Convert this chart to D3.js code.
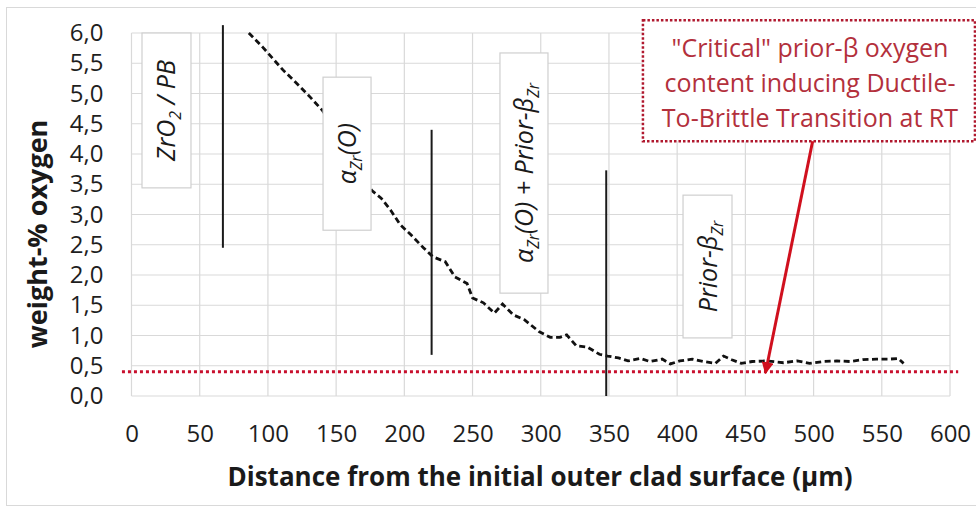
<!DOCTYPE html>
<html>
<head>
<meta charset="utf-8">
<script src="https://cdn.jsdelivr.net/npm/d3@7"></script>
<style>
  body { margin: 0; background: #fff; }
  text { font-family: "Open Sans", "Lato", sans-serif; }
</style>
</head>
<body>
<div id="chart"></div>
<script>
// DATA
var distance = [86, 96, 111, 121, 131, 140, 176, 183, 190, 197, 205, 214, 221, 230, 237, 246,
  250, 258, 266, 272, 280, 288, 299, 307, 314, 319, 326, 334, 343, 349, 357, 364, 373, 380,
  389, 395, 402, 411, 419, 428, 434, 440, 447, 455, 466, 478, 488, 497, 507, 517, 527, 536,
  546, 556, 562, 566];
var oxygen = [6.0, 5.77, 5.39, 5.17, 4.94, 4.72, 3.40, 3.27, 3.07, 2.83, 2.66, 2.45, 2.30, 2.22,
  1.97, 1.86, 1.62, 1.54, 1.37, 1.52, 1.34, 1.26, 1.06, 0.97, 0.97, 1.01, 0.83, 0.81, 0.69,
  0.66, 0.63, 0.58, 0.62, 0.57, 0.61, 0.53, 0.58, 0.61, 0.57, 0.54, 0.66, 0.60, 0.54, 0.57,
  0.58, 0.55, 0.58, 0.54, 0.57, 0.58, 0.57, 0.60, 0.61, 0.61, 0.62, 0.54];

var xTicks = [0, 50, 100, 150, 200, 250, 300, 350, 400, 450, 500, 550, 600];
var yTicks = [0, 0.5, 1, 1.5, 2, 2.5, 3, 3.5, 4, 4.5, 5, 5.5, 6];

// phase boundaries: [x, yTop, yBottom]
var boundaries = [[67, 6.13, 2.45], [220, 4.4, 0.68], [348, 3.73, 0]];

// phase label boxes: x0, x1, yTop, yBottom
var phaseBoxes = [
  { x0: 7.7, x1: 43.6, y0: 6.0, y1: 3.44, parts: [["ZrO", false], ["2", true], [" / PB", false]] },
  { x0: 140.4, x1: 175.6, y0: 5.27, y1: 2.74, parts: [["α", false], ["Zr", true], ["(O)", false]] },
  { x0: 270.1, x1: 305.3, y0: 5.67, y1: 1.70, parts: [["α", false], ["Zr", true], ["(O) + Prior-β", false], ["Zr", true]] },
  { x0: 404.3, x1: 440.2, y0: 3.32, y1: 0.96, parts: [["Prior-β", false], ["Zr", true]] }
];

var criticalLevel = 0.4;
var criticalExtent = [-7, 606];
var noteLines = ['"Critical" prior-β oxygen', "content inducing Ductile-", "To-Brittle Transition at RT"];
var noteBox = { x0: 374.9, x1: 618.3, y0: 6.21, y1: 4.21 };
var arrowFrom = [499.3, 4.21];
var arrowTo = [464.9, 0.4];

// -------------------------------------------------
var W = 976, H = 512;
var margin = { top: 33, right: 26, bottom: 116, left: 131.5 };
var width = W - margin.left - margin.right;
var height = H - margin.top - margin.bottom;

var x = d3.scaleLinear().domain([0, 600]).range([0, width]);
var y = d3.scaleLinear().domain([0, 6]).range([height, 0]);
var fmt = function (d) { return d3.format(".1f")(d).replace(".", ","); };

var svg = d3.select("#chart").append("svg").attr("width", W).attr("height", H);

// CHART BORDER
svg.append("rect")
  .attr("x", 6.5).attr("y", 7.5)
  .attr("width", W).attr("height", 498)
  .attr("fill", "#fff")
  .attr("stroke", "#d9d9d9");

var g = svg.append("g").attr("transform", `translate(${margin.left}, ${margin.top})`);

// GRID
g.append("g")
  .selectAll("line")
  .data(xTicks)
  .enter()
  .append("line")
  .attr("x1", (d) => x(d)).attr("x2", (d) => x(d))
  .attr("y1", 0).attr("y2", height)
  .attr("stroke", "#d9d9d9").attr("stroke-width", 1.2);

g.append("g")
  .selectAll("line")
  .data(yTicks)
  .enter()
  .append("line")
  .attr("x1", 0).attr("x2", width)
  .attr("y1", (d) => y(d)).attr("y2", (d) => y(d))
  .attr("stroke", "#d9d9d9").attr("stroke-width", 1.2);

// AXES (labels only)
var xAxis = g.append("g")
  .attr("transform", `translate(0, ${height})`)
  .call(d3.axisBottom(x).tickValues(xTicks).tickSize(0).tickPadding(29).tickFormat(d3.format("d")));
xAxis.select(".domain").remove();
xAxis.selectAll("text").attr("font-size", 24).attr("fill", "#1e1e1e").style("font-family", '"Open Sans", sans-serif');

var yAxis = g.append("g")
  .call(d3.axisLeft(y).tickValues(yTicks).tickSize(0).tickPadding(28).tickFormat(fmt));
yAxis.select(".domain").remove();
yAxis.selectAll("text").attr("font-size", 24).attr("fill", "#1e1e1e").style("font-family", '"Open Sans", sans-serif');

// AXIS TITLES
svg.append("text")
  .attr("x", 540).attr("y", 486)
  .attr("text-anchor", "middle")
  .attr("font-size", 26).attr("font-weight", "bold").attr("fill", "#1a1a1a")
  .text("Distance from the initial outer clad surface (µm)");

svg.append("text")
  .attr("transform", "translate(47, 234) rotate(-90)")
  .attr("text-anchor", "middle")
  .attr("font-size", 27).attr("font-weight", "bold").attr("fill", "#1a1a1a")
  .text("weight-% oxygen");

// CRITICAL LEVEL
g.append("line")
  .attr("x1", x(criticalExtent[0])).attr("x2", x(criticalExtent[1]))
  .attr("y1", y(criticalLevel)).attr("y2", y(criticalLevel))
  .attr("stroke", "#c8102e").attr("stroke-width", 3)
  .attr("stroke-dasharray", "3,3");

// DATA LINE
var pts = distance.map((d, i) => [d, oxygen[i]]);
var line = d3.line().x((d) => x(d[0])).y((d) => y(d[1]));
g.append("path")
  .attr("d", line(pts))
  .attr("fill", "none")
  .attr("stroke", "#111")
  .attr("stroke-width", 2.8)
  .attr("stroke-dasharray", "6,3.5");

// PHASE BOUNDARIES
g.append("g")
  .selectAll("line")
  .data(boundaries)
  .enter()
  .append("line")
  .attr("x1", (d) => x(d[0])).attr("x2", (d) => x(d[0]))
  .attr("y1", (d) => y(d[1])).attr("y2", (d) => y(d[2]))
  .attr("stroke", "#1a1a1a").attr("stroke-width", 2);

// PHASE LABELS
var boxes = g.selectAll(".phase")
  .data(phaseBoxes)
  .enter()
  .append("g")
  .attr("class", "phase");

boxes.append("rect")
  .attr("x", (d) => x(d.x0)).attr("y", (d) => y(d.y0))
  .attr("width", (d) => x(d.x1) - x(d.x0))
  .attr("height", (d) => y(d.y1) - y(d.y0))
  .attr("fill", "#fff")
  .attr("stroke", "#cfcfcf").attr("stroke-width", 1.2);

boxes.append("text")
  .attr("transform", (d) => `translate(${(x(d.x0) + x(d.x1)) / 2 + 9}, ${(y(d.y0) + y(d.y1)) / 2}) rotate(-90)`)
  .attr("text-anchor", "middle")
  .attr("font-size", 25).attr("font-style", "italic").attr("fill", "#1a1a1a")
  .each(function (d) {
    var t = d3.select(this);
    d.parts.forEach(function (p) {
      var s = t.append("tspan").text(p[0]);
      if (p[1]) s.attr("font-size", 16).attr("dy", 6);
      else if (t.selectAll("tspan").size() > 1) s.attr("dy", -6);
    });
  });

// NOTE BOX
g.append("rect")
  .attr("x", x(noteBox.x0)).attr("y", y(noteBox.y0))
  .attr("width", x(noteBox.x1) - x(noteBox.x0))
  .attr("height", y(noteBox.y1) - y(noteBox.y0))
  .attr("fill", "#fff")
  .attr("stroke", "#b0182e").attr("stroke-width", 2.5)
  .attr("stroke-dasharray", "2.5,2");

g.append("g")
  .selectAll("text")
  .data(noteLines)
  .enter()
  .append("text")
  .attr("x", (x(noteBox.x0) + x(noteBox.x1)) / 2 + 1)
  .attr("y", (d, i) => y(noteBox.y0) + 37 + i * 35)
  .attr("text-anchor", "middle")
  .attr("font-size", 25).attr("fill", "#b3303c")
  .text((d) => d);

// ARROW
svg.append("defs").append("marker")
  .attr("id", "head")
  .attr("viewBox", "0 0 10 10")
  .attr("refX", 8).attr("refY", 5)
  .attr("markerWidth", 4).attr("markerHeight", 4)
  .attr("orient", "auto")
  .append("path")
  .attr("d", "M0,0 L10,5 L0,10 z")
  .attr("fill", "#d0101e");

g.append("line")
  .attr("x1", x(arrowFrom[0])).attr("y1", y(arrowFrom[1]))
  .attr("x2", x(arrowTo[0])).attr("y2", y(arrowTo[1]))
  .attr("stroke", "#d0101e").attr("stroke-width", 3)
  .attr("marker-end", "url(#head)");
</script>
</body>
</html>
